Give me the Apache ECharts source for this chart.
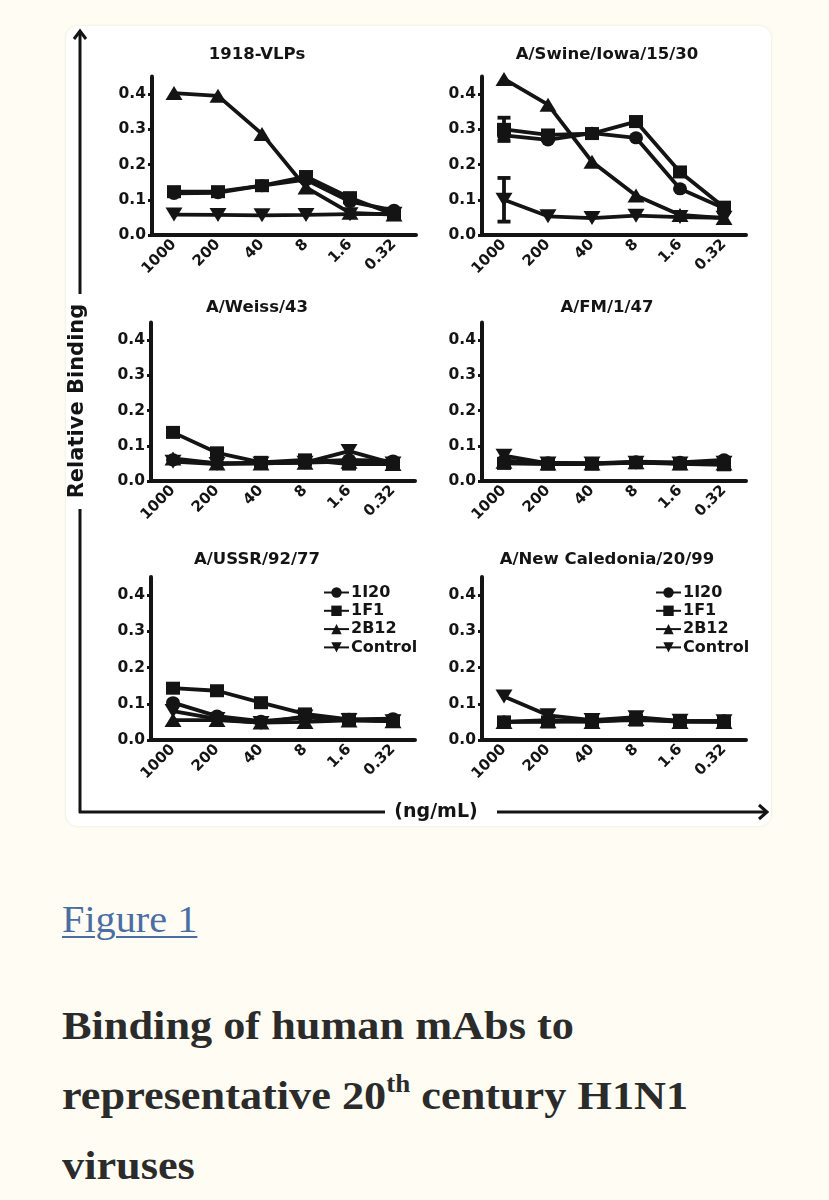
<!DOCTYPE html>
<html>
<head>
<meta charset="utf-8">
<script src="https://cdn.jsdelivr.net/npm/echarts@6/dist/echarts.min.js"></script>
<style>
  html, body { margin: 0; padding: 0; }
  body { width: 829px; height: 1200px; background: #fffdf3; position: relative; overflow: hidden; }
  #card { position: absolute; left: 66px; top: 26px; width: 705px; height: 800px; background: #ffffff; border-radius: 12px; box-shadow: 0 0 3px rgba(120,110,80,0.18); }
  #chart { position: absolute; left: 0; top: 0; width: 829px; height: 840px; }
  #fig { position: absolute; left: 62px; top: 897px; font-family: 'Liberation Serif', 'Times New Roman', serif; font-size: 38px; line-height: 44px; color: #4a6ea3; text-decoration: underline; text-decoration-thickness: 2px; text-underline-offset: 4px; transform: scaleX(1.06); transform-origin: 0 0; }
  #cap { position: absolute; left: 62px; top: 990px; width: 700px; font-family: 'Liberation Serif', 'Times New Roman', serif; font-weight: bold; font-size: 41px; line-height: 70px; color: #2b2b2b; transform: scaleX(1.08); transform-origin: 0 0; white-space: nowrap; }
  #cap sup { font-size: 25px; line-height: 0; vertical-align: 17px; }
</style>
</head>
<body>
<div id="card"></div>
<div id="chart"></div>
<div id="fig">Figure 1</div>
<div id="cap">Binding of human mAbs to<br>representative 20<sup>th</sup> century H1N1<br>viruses</div>
<script>
// ---------- data ----------
const categories = ['1000', '200', '40', '8', '1.6', '0.32'];
const yTicks = [0, 0.1, 0.2, 0.3, 0.4];
const seriesNames = ['1I20', '1F1', '2B12', 'Control'];
const panelTitles = ['1918-VLPs', 'A/Swine/Iowa/15/30', 'A/Weiss/43', 'A/FM/1/47', 'A/USSR/92/77', 'A/New Caledonia/20/99'];

const vlp_1I20    = [0.118, 0.120, 0.140, 0.157, 0.095, 0.070];
const vlp_1F1     = [0.123, 0.123, 0.140, 0.166, 0.106, 0.058];
const vlp_2B12    = [0.403, 0.395, 0.287, 0.135, 0.063, 0.058];
const vlp_Control = [0.058, 0.057, 0.056, 0.057, 0.059, 0.060];

const swine_1I20    = [0.283, 0.270, 0.289, 0.276, 0.131, 0.076];
const swine_1F1     = [0.300, 0.284, 0.288, 0.322, 0.179, 0.079];
const swine_2B12    = [0.443, 0.370, 0.208, 0.112, 0.057, 0.048];
const swine_Control = [0.100, 0.053, 0.048, 0.055, 0.051, 0.049];
const swine_1F1_err     = [0.033, 0, 0, 0.012, 0, 0];
const swine_Control_err = [0.062, 0, 0, 0, 0, 0];

const weiss_1I20    = [0.060, 0.050, 0.052, 0.054, 0.060, 0.057];
const weiss_1F1     = [0.138, 0.080, 0.053, 0.060, 0.048, 0.048];
const weiss_2B12    = [0.064, 0.050, 0.050, 0.052, 0.055, 0.048];
const weiss_Control = [0.055, 0.048, 0.050, 0.052, 0.085, 0.050];

const fm_1I20    = [0.058, 0.052, 0.050, 0.055, 0.053, 0.060];
const fm_1F1     = [0.050, 0.048, 0.048, 0.052, 0.049, 0.046];
const fm_2B12    = [0.055, 0.050, 0.050, 0.053, 0.050, 0.050];
const fm_Control = [0.072, 0.050, 0.050, 0.052, 0.050, 0.052];

const ussr_1I20    = [0.103, 0.066, 0.052, 0.062, 0.057, 0.059];
const ussr_1F1     = [0.143, 0.136, 0.103, 0.072, 0.057, 0.052];
const ussr_2B12    = [0.055, 0.055, 0.048, 0.050, 0.054, 0.052];
const ussr_Control = [0.080, 0.058, 0.047, 0.065, 0.055, 0.052];

const nc_1I20    = [0.050, 0.055, 0.052, 0.060, 0.052, 0.053];
const nc_1F1     = [0.050, 0.050, 0.052, 0.055, 0.052, 0.050];
const nc_2B12    = [0.050, 0.052, 0.050, 0.058, 0.050, 0.050];
const nc_Control = [0.120, 0.068, 0.055, 0.063, 0.053, 0.052];

const xAxisTitle = '(ng/mL)';
const yAxisTitle = 'Relative Binding';

// ---------- build ----------
const panelData = [
  { '1I20': vlp_1I20, '1F1': vlp_1F1, '2B12': vlp_2B12, 'Control': vlp_Control },
  { '1I20': swine_1I20, '1F1': swine_1F1, '2B12': swine_2B12, 'Control': swine_Control },
  { '1I20': weiss_1I20, '1F1': weiss_1F1, '2B12': weiss_2B12, 'Control': weiss_Control },
  { '1I20': fm_1I20, '1F1': fm_1F1, '2B12': fm_2B12, 'Control': fm_Control },
  { '1I20': ussr_1I20, '1F1': ussr_1F1, '2B12': ussr_2B12, 'Control': ussr_Control },
  { '1I20': nc_1I20, '1F1': nc_1F1, '2B12': nc_2B12, 'Control': nc_Control }
];
const errorBars = [
  { panel: 1, values: swine_1F1, errs: swine_1F1_err },
  { panel: 1, values: swine_Control, errs: swine_Control_err }
];

const FONT = "'DejaVu Sans', 'Liberation Sans', sans-serif";
const INK = '#141414';

const gridLayout = [
  { left: 152, top: 76.5, width: 264, height: 158.5 },
  { left: 482, top: 76.5, width: 264, height: 158.5 },
  { left: 151, top: 322.5, width: 264, height: 158.5 },
  { left: 482, top: 322.5, width: 264, height: 158.5 },
  { left: 151, top: 577, width: 264, height: 163 },
  { left: 482, top: 577, width: 264, height: 163 }
];
const titlePos = [
  { x: 252, y: 52 }, { x: 602, y: 52 },
  { x: 252, y: 305 }, { x: 602, y: 305 },
  { x: 252, y: 557 }, { x: 602, y: 557 }
];
const symbolOf = {
  '1I20': { symbol: 'circle', size: [14, 13], rotate: 0 },
  '1F1': { symbol: 'rect', size: [14, 13], rotate: 0 },
  '2B12': { symbol: 'triangle', size: [17, 14], rotate: 0 },
  'Control': { symbol: 'triangle', size: [17, 14], rotate: 180 }
};

const grids = [], xAxes = [], yAxes = [], series = [], titles = [];
gridLayout.forEach((g, i) => {
  grids.push(Object.assign({ containLabel: false }, g));
  xAxes.push({
    type: 'category', gridIndex: i, data: categories, boundaryGap: true,
    axisLine: { lineStyle: { color: INK, width: 4 } },
    axisTick: { alignWithLabel: true, interval: 0, length: 4, lineStyle: { color: INK, width: 3 } },
    axisLabel: { interval: 0, rotate: 45, margin: 7, color: INK, fontFamily: FONT, fontWeight: 'bold', fontSize: 15 }
  });
  yAxes.push({
    type: 'value', gridIndex: i, min: 0, max: 0.45,
    splitLine: { show: false },
    axisLine: { show: true, lineStyle: { color: INK, width: 4 } },
    axisTick: { show: true, length: 4, customValues: yTicks, lineStyle: { color: INK, width: 3 } },
    axisLabel: { customValues: yTicks, margin: 6, color: INK, fontFamily: FONT, fontWeight: 'bold', fontSize: 15.5,
      formatter: v => v.toFixed(1) }
  });
  titles.push({
    text: panelTitles[i], left: titlePos[i].x, top: titlePos[i].y - 11, textAlign: 'center',
    textStyle: { color: INK, fontFamily: FONT, fontWeight: 'bold', fontSize: 16.5 }
  });
  seriesNames.forEach(name => {
    const s = symbolOf[name];
    series.push({
      type: 'line', name: name, xAxisIndex: i, yAxisIndex: i,
      data: panelData[i][name],
      symbol: s.symbol, symbolSize: s.size, symbolRotate: s.rotate,
      lineStyle: { color: INK, width: 3.8 }, itemStyle: { color: INK, borderColor: INK, borderWidth: 0 },
      emphasis: { disabled: true }, animation: false, z: 3
    });
  });
});

errorBars.forEach(eb => {
  const items = [];
  eb.values.forEach((v, k) => { if (eb.errs[k] > 0) items.push([k, v, eb.errs[k]]); });
  series.push({
    type: 'custom', name: 'err', xAxisIndex: eb.panel, yAxisIndex: eb.panel, data: items, z: 4,
    encode: { x: 0, y: 1 }, animation: false, silent: true,
    renderItem: (params, api) => {
      const x = api.value(0), y = api.value(1), e = api.value(2);
      const hi = api.coord([x, y + e]), lo = api.coord([x, y - e]);
      const w = 6.5;
      const st = { stroke: INK, lineWidth: 3.8 };
      return { type: 'group', children: [
        { type: 'line', shape: { x1: hi[0], y1: hi[1], x2: lo[0], y2: lo[1] }, style: st },
        { type: 'line', shape: { x1: hi[0] - w, y1: hi[1], x2: hi[0] + w, y2: hi[1] }, style: st },
        { type: 'line', shape: { x1: lo[0] - w, y1: lo[1], x2: lo[0] + w, y2: lo[1] }, style: st }
      ]};
    }
  });
});

const legendBase = {
  orient: 'vertical', data: seriesNames, itemWidth: 25, itemHeight: 13, itemGap: 1.3,
  selectedMode: false,
  textStyle: { color: INK, fontFamily: FONT, fontWeight: 'bold', fontSize: 16, lineHeight: 17, padding: [0, 0, 0, -3] }
};
const legends = [
  Object.assign({}, legendBase, { left: 318, top: 579 }),
  Object.assign({}, legendBase, { left: 650, top: 579 })
];

const axisStroke = { stroke: INK, lineWidth: 3 };
const graphic = [
  { type: 'line', shape: { x1: 80, y1: 31, x2: 80, y2: 294 }, style: axisStroke },
  { type: 'line', shape: { x1: 80, y1: 509, x2: 80, y2: 813 }, style: axisStroke },
  { type: 'polyline', shape: { points: [[74, 39], [80, 31], [86, 39]] }, style: { stroke: INK, lineWidth: 3, fill: null } },
  { type: 'line', shape: { x1: 79, y1: 812, x2: 385, y2: 812 }, style: axisStroke },
  { type: 'line', shape: { x1: 497, y1: 812, x2: 767, y2: 812 }, style: axisStroke },
  { type: 'polyline', shape: { points: [[759, 805], [767, 812], [759, 819]] }, style: { stroke: INK, lineWidth: 3, fill: null } },
  { type: 'text', x: 436, y: 812, style: { text: xAxisTitle, fill: INK, font: "bold 19px 'DejaVu Sans', sans-serif", align: 'center', verticalAlign: 'middle' } },
  { type: 'text', x: 78, y: 401, rotation: Math.PI / 2, style: { text: yAxisTitle, fill: INK, font: "bold 21px 'DejaVu Sans', sans-serif", align: 'center', verticalAlign: 'middle' } }
];

const chart = echarts.init(document.getElementById('chart'), null, { renderer: 'canvas' });
chart.setOption({
  backgroundColor: 'transparent',
  animation: false,
  title: titles,
  grid: grids,
  xAxis: xAxes,
  yAxis: yAxes,
  legend: legends,
  series: series,
  graphic: graphic
});
</script>
</body>
</html>
